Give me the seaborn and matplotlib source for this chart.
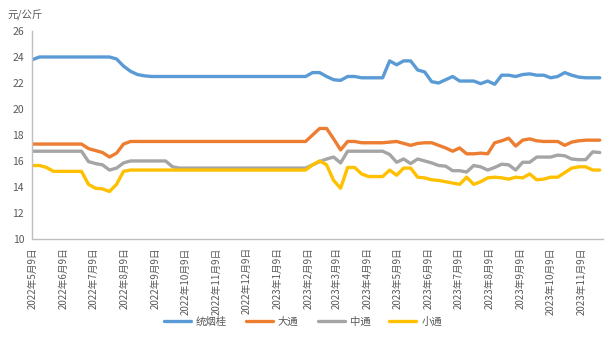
import matplotlib
matplotlib.use("Agg")
import matplotlib.pyplot as plt
import matplotlib.dates as mdates
import matplotlib.ticker as mticker
import seaborn as sns
import pandas as pd

start_date = "2022-05-09"
n_weeks = 82

series_names = ["统烟桂", "大通", "中通", "小通"]

tongyangui = [23.8,
              24.0, 24.0, 24.0, 24.0, 24.0, 24.0, 24.0, 24.0, 24.0, 24.0, 24.0,
              23.85, 23.3, 22.9, 22.65, 22.55,
              22.5, 22.5, 22.5, 22.5, 22.5, 22.5, 22.5, 22.5, 22.5, 22.5, 22.5, 22.5,
              22.5, 22.5, 22.5, 22.5, 22.5, 22.5, 22.5, 22.5, 22.5, 22.5, 22.5,
              22.8, 22.8, 22.5, 22.25, 22.2, 22.5, 22.5, 22.4, 22.4, 22.4, 22.4,
              23.7, 23.4, 23.7, 23.7,
              23.0, 22.85, 22.1, 22.0, 22.25, 22.5, 22.15, 22.15, 22.15, 21.95, 22.15, 21.9,
              22.6, 22.6, 22.5, 22.65, 22.7, 22.6, 22.6, 22.4, 22.5, 22.8, 22.6, 22.45, 22.4, 22.4, 22.4]

datong = [17.3, 17.3, 17.3, 17.3, 17.3, 17.3, 17.3, 17.3,
          16.95, 16.8, 16.65, 16.3, 16.6, 17.3, 17.5,
          17.5, 17.5, 17.5, 17.5, 17.5, 17.5, 17.5, 17.5, 17.5, 17.5, 17.5, 17.5, 17.5,
          17.5, 17.5, 17.5, 17.5, 17.5, 17.5, 17.5, 17.5, 17.5, 17.5, 17.5, 17.5,
          18.0, 18.5, 18.5, 17.7, 16.85, 17.5, 17.5, 17.4, 17.4, 17.4, 17.4,
          17.45, 17.5, 17.35, 17.2, 17.35, 17.4, 17.4, 17.2, 17.0, 16.75, 17.0, 16.55, 16.55, 16.6, 16.55,
          17.4, 17.55, 17.75, 17.15, 17.6, 17.7, 17.55, 17.5, 17.5, 17.5, 17.2, 17.45, 17.55, 17.6, 17.6, 17.6]

zhongtong = [16.75, 16.75, 16.75, 16.75, 16.75, 16.75, 16.75, 16.75,
             15.95, 15.8, 15.7, 15.3, 15.45, 15.85, 16.0,
             16.0, 16.0, 16.0, 16.0, 16.0,
             15.55,
             15.45, 15.45, 15.45, 15.45, 15.45, 15.45, 15.45, 15.45, 15.45, 15.45,
             15.45, 15.45, 15.45, 15.45, 15.45, 15.45, 15.45, 15.45, 15.45,
             15.7, 15.95, 16.15, 16.3, 15.85, 16.75, 16.75, 16.75, 16.75, 16.75, 16.75,
             16.5, 15.9, 16.15, 15.8, 16.15, 16.0, 15.85, 15.65, 15.6, 15.25, 15.25, 15.15, 15.65, 15.55, 15.3, 15.5,
             15.75, 15.7, 15.3, 15.9, 15.9, 16.3, 16.3, 16.3, 16.45, 16.4, 16.15, 16.1, 16.1, 16.7, 16.65]

xiaotong = [15.65, 15.65, 15.5, 15.2,
            15.2, 15.2, 15.2, 15.2,
            14.2, 13.9, 13.85, 13.65, 14.2, 15.2, 15.3,
            15.3, 15.3, 15.3, 15.3, 15.3, 15.3, 15.3, 15.3, 15.3, 15.3, 15.3, 15.3, 15.3,
            15.3, 15.3, 15.3, 15.3, 15.3, 15.3, 15.3, 15.3, 15.3, 15.3, 15.3, 15.3,
            15.7, 16.0, 15.7, 14.5, 13.9, 15.5, 15.5, 15.0, 14.8, 14.8, 14.8,
            15.3, 14.9, 15.45, 15.45, 14.75, 14.7, 14.55, 14.5, 14.4, 14.3, 14.2, 14.75, 14.2, 14.4, 14.7, 14.75,
            14.7, 14.6, 14.75, 14.7, 15.0, 14.55, 14.6, 14.75, 14.75, 15.1, 15.45, 15.55, 15.55, 15.3, 15.3]

colors = ["#5B9BD5", "#ED7D31", "#A5A5A5", "#FFC000"]
y_ticks = [10, 12, 14, 16, 18, 20, 22, 24, 26]
unit_label = "元/公斤"

dates = pd.date_range(start_date, periods=n_weeks, freq="7D")
frames = []
for name, vals in zip(series_names, [tongyangui, datong, zhongtong, xiaotong]):
    frames.append(pd.DataFrame({"date": dates, "value": vals, "series": name}))
df = pd.concat(frames, ignore_index=True)

sns.set_theme(style="white")
plt.rcParams["font.family"] = ["Noto Sans CJK SC", "DejaVu Sans"]

fig = plt.figure(figsize=(6.06, 3.37), dpi=100)
ax = fig.add_axes([0.0536, 0.291, 0.941, 0.617])

sns.lineplot(data=df, x="date", y="value", hue="series", hue_order=series_names,
             palette=colors, linewidth=2.4, ax=ax, legend=True)

ax.set_ylim(10, 26)
ax.set_yticks(y_ticks)
ax.set_xlim(pd.Timestamp(start_date), dates[-1] + pd.Timedelta(days=3))

ax.xaxis.set_major_locator(mdates.MonthLocator(bymonthday=9))
ax.xaxis.set_major_formatter(mticker.FuncFormatter(
    lambda v, p: (lambda d: f"{d.year}年{d.month}月{d.day}日")(mdates.num2date(v))))

label_color = "#595959"
ax.tick_params(axis="x", labelrotation=90, labelsize=7, colors=label_color,
               length=4, width=0.8, direction="out", pad=2, color="#BFBFBF")
ax.tick_params(axis="y", labelsize=7.5, colors=label_color, length=0, pad=6)
for lab in ax.get_xticklabels():
    lab.set_color(label_color)

for s in ["top", "right"]:
    ax.spines[s].set_visible(False)
for s in ["left", "bottom"]:
    ax.spines[s].set_color("#BFBFBF")
    ax.spines[s].set_linewidth(1.0)
ax.set_xlabel("")
ax.set_ylabel("")
ax.grid(False)

fig.text(0.013, 0.955, unit_label, fontsize=7.5, color=label_color, va="center", ha="left")

handles, labels = ax.get_legend_handles_labels()
ax.get_legend().remove()
fig.legend(handles, labels, loc="center", bbox_to_anchor=(0.5, 0.045), ncol=4,
           frameon=False, fontsize=7.5, handlelength=2.6, columnspacing=1.8,
           handletextpad=0.5, labelcolor=label_color)

fig.savefig("out.png", dpi=100)
